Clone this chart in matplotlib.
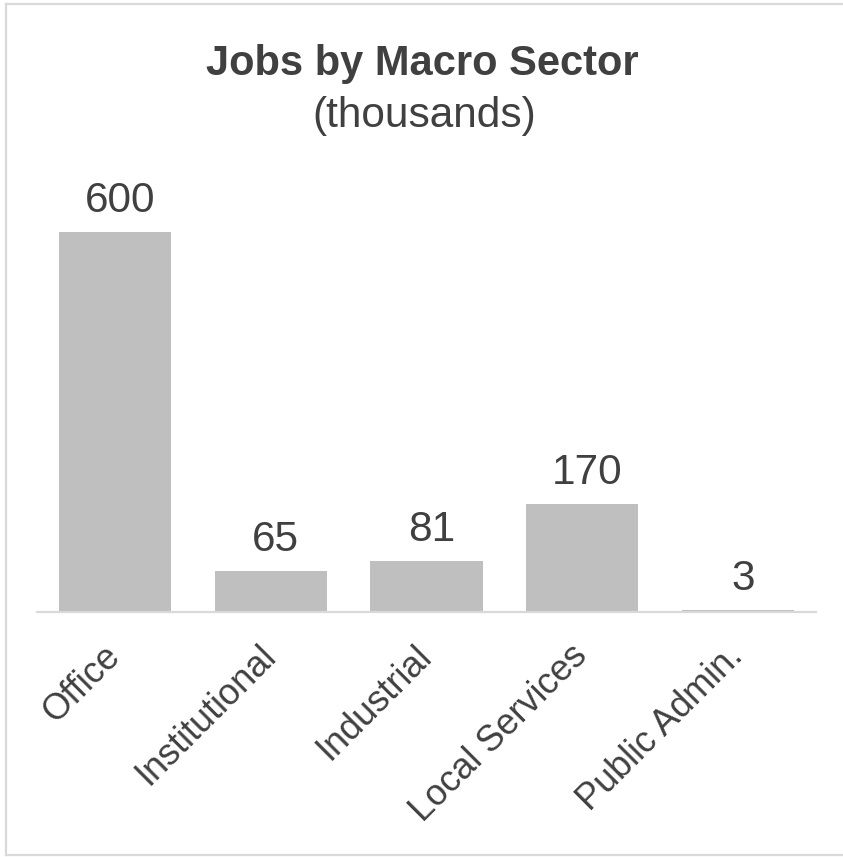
import matplotlib
matplotlib.use("Agg")
import matplotlib.pyplot as plt
from matplotlib.lines import Line2D

categories = ["Office", "Institutional", "Industrial", "Local Services", "Public Admin."]
jobs = [600, 65, 81, 170, 3]
title = "Jobs by Macro Sector"
subtitle = "(thousands)"

plt.rcParams['font.family'] = ['Liberation Sans', 'DejaVu Sans']
TXT = '#404040'
BAR = '#BFBFBF'
GRID = '#D9D9D9'

W, H = 843, 857
fig = plt.figure(figsize=(W / 100, H / 100), dpi=100)

ax = fig.add_axes([37 / W, 245 / H, 779 / W, 462 / H])
x = list(range(len(categories)))
bars = ax.bar(x, jobs, width=0.72, color=BAR, zorder=2)
ax.set_xlim(-0.5, len(categories) - 0.5)
ax.set_ylim(0, 729.5)

for rect, v in zip(bars, jobs):
    ax.annotate(f"{v}", (rect.get_x() + rect.get_width() / 2, rect.get_height()),
                xytext=(3.5, 14.4), textcoords='offset points',
                ha='center', va='baseline', fontsize=30.5, color=TXT)

ax.set_xticks(x)
ax.set_xticklabels(categories, rotation=45, ha='right', va='center',
                   rotation_mode='anchor', fontsize=26, color=TXT)
ax.tick_params(axis='x', length=0, pad=28)
ax.set_yticks([])
for s in ['top', 'right', 'left']:
    ax.spines[s].set_visible(False)
ax.spines['bottom'].set_color(GRID)
ax.spines['bottom'].set_linewidth(1.6)
ax.spines['bottom'].set_zorder(3)

fig.text(422 / W, 1 - 75 / H, title, ha='center', va='baseline',
         fontsize=30, fontweight='bold', color=TXT)
fig.text(424 / W, 1 - 127 / H, subtitle, ha='center', va='baseline',
         fontsize=30.5, color=TXT)

# chart border
lw = 1.6
fig.add_artist(Line2D([6 / W, 6 / W], [1 - 4 / H, 1 - 855 / H], color=GRID, lw=lw, transform=fig.transFigure))
fig.add_artist(Line2D([6 / W, 1.0], [1 - 4 / H, 1 - 4 / H], color=GRID, lw=lw, transform=fig.transFigure))
fig.add_artist(Line2D([6 / W, 1.0], [1 - 855 / H, 1 - 855 / H], color=GRID, lw=lw, transform=fig.transFigure))

fig.savefig("out.png", dpi=100)
